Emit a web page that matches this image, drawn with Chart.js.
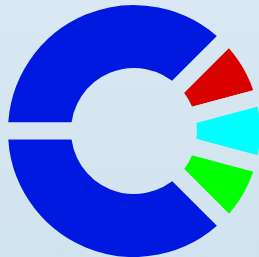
<!DOCTYPE html>
<html>
<head>
<meta charset="utf-8">
<script src="https://cdn.jsdelivr.net/npm/chart.js@4"></script>
<style>
  html, body { margin: 0; padding: 0; }
  body {
    width: 259px; height: 257px; overflow: hidden;
    background: linear-gradient(to bottom, #d9e8f2 0%, #d1e3ef 100%);
  }
  #wrap { position: relative; width: 259px; height: 257px; }
</style>
</head>
<body>
<div id="wrap"><canvas id="chart-donut"></canvas></div>
<script>
// Segments, clockwise from 9 o'clock
const categories = ['Bleu haut', 'Rouge', 'Cyan', 'Vert', 'Bleu bas'];
const values = [135, 30, 30, 30, 135];
const segmentColors = ['#0019e0', '#d90000', '#00ffff', '#00ff00', '#0019e0'];

// Bordure = couleur du fond, pour faire les espaces entre les parts
function backgroundGradient(chart) {
  const g = chart.ctx.createLinearGradient(0, 0, 0, 257);
  g.addColorStop(0, '#d9e8f2');
  g.addColorStop(1, '#d1e3ef');
  return g;
}

const canvas = document.getElementById('chart-donut');
const ctx = canvas.getContext('2d');

new Chart(ctx, {
  type: 'doughnut',
  data: {
    labels: categories,
    datasets: [{
      data: values,
      backgroundColor: segmentColors,
      borderColor: (c) => backgroundGradient(c.chart),
      borderWidth: 17,
      clip: false
    }]
  },
  options: {
    responsive: true,
    maintainAspectRatio: false,
    animation: false,
    rotation: -90,
    radius: 134.5,
    cutout: '40.5%',
    layout: { padding: { left: 9, top: 5, right: 0, bottom: 0 } },
    events: [],
    plugins: {
      legend: { display: false },
      tooltip: { enabled: false }
    }
  }
});
</script>
</body>
</html>
